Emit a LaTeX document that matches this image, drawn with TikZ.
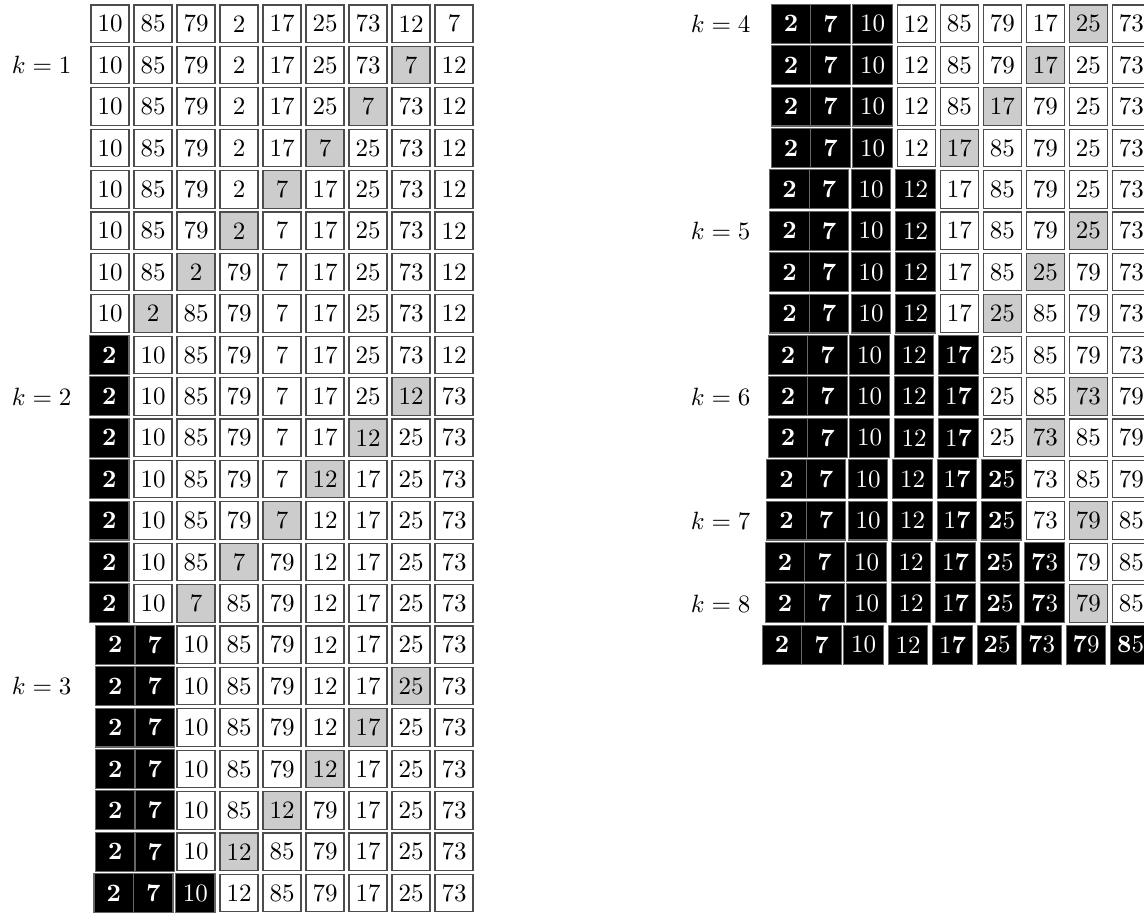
\documentclass[tikz,border=0pt]{standalone}
\tikzset{
  cell/.style={draw=black!70, line width=0.45pt, inner sep=0pt, outer sep=0pt,
    minimum width=15.2pt, minimum height=15pt, anchor=west},
  wcell/.style={cell, fill=white},
  gcell/.style={cell, fill=black!20},
  bcell/.style={cell, fill=black, draw=black!60, text=white,
    minimum width=15.8pt, minimum height=15.56pt},
  klabel/.style={anchor=east, inner sep=0pt},
}
\newcommand\btext[1]{\ifcase#1\or\textbf{2}\or\textbf{7}\or 10\or 12\or 1\textbf{7}\or\textbf{2}5\or\textbf{7}3\or\textbf{7}9\or\textbf{8}5\fi}
\newcommand\cellrow[6]{%
  \pgfmathsetmacro\rowy{23.75+(#2-1)*41.4}%
  \pgfmathsetmacro\rowstart{#3-(9*38+#4*1.5+40-ifthenelse(#4>1,7.5,0))}%
  \foreach \v [count=\j] in {#6} {%
    \pgfmathsetmacro\cx{\rowstart+(\j-1)*43+min(\j-1,#4)*1.5-ifthenelse(#4>1,ifthenelse(\j>1,5,0)+ifthenelse(\j>2,2.5,0),0)}%
    \ifnum\j>#4\relax
      \ifnum\j=#5\relax
        \node[gcell] (#1#2-\j) at (\cx,\rowy) {\v};
      \else
        \node[wcell] (#1#2-\j) at (\cx,\rowy) {\v};
      \fi
    \else
      \node[bcell] (#1#2-\j) at (\cx,\rowy) {\btext{\j}};
    \fi
  }%
}
\begin{document}
\begin{tikzpicture}[x=0.4pt, y=-0.4pt]
\useasboundingbox (0,0) rectangle (1144,915);
% left block
\cellrow{L}{1}{473}{0}{0}{10,85,79,2,17,25,73,12,7}
\cellrow{L}{2}{473}{0}{8}{10,85,79,2,17,25,73,7,12}
\cellrow{L}{3}{473}{0}{7}{10,85,79,2,17,25,7,73,12}
\cellrow{L}{4}{473}{0}{6}{10,85,79,2,17,7,25,73,12}
\cellrow{L}{5}{473}{0}{5}{10,85,79,2,7,17,25,73,12}
\cellrow{L}{6}{473}{0}{4}{10,85,79,2,7,17,25,73,12}
\cellrow{L}{7}{473}{0}{3}{10,85,2,79,7,17,25,73,12}
\cellrow{L}{8}{473}{0}{2}{10,2,85,79,7,17,25,73,12}
\cellrow{L}{9}{473}{1}{0}{2,10,85,79,7,17,25,73,12}
\cellrow{L}{10}{473}{1}{8}{2,10,85,79,7,17,25,12,73}
\cellrow{L}{11}{473}{1}{7}{2,10,85,79,7,17,12,25,73}
\cellrow{L}{12}{473}{1}{6}{2,10,85,79,7,12,17,25,73}
\cellrow{L}{13}{473}{1}{5}{2,10,85,79,7,12,17,25,73}
\cellrow{L}{14}{473}{1}{4}{2,10,85,7,79,12,17,25,73}
\cellrow{L}{15}{473}{1}{3}{2,10,7,85,79,12,17,25,73}
\cellrow{L}{16}{473}{2}{0}{2,7,10,85,79,12,17,25,73}
\cellrow{L}{17}{473}{2}{8}{2,7,10,85,79,12,17,25,73}
\cellrow{L}{18}{473}{2}{7}{2,7,10,85,79,12,17,25,73}
\cellrow{L}{19}{473}{2}{6}{2,7,10,85,79,12,17,25,73}
\cellrow{L}{20}{473}{2}{5}{2,7,10,85,12,79,17,25,73}
\cellrow{L}{21}{473}{2}{4}{2,7,10,12,85,79,17,25,73}
\cellrow{L}{22}{473}{3}{0}{2,7,10,12,85,79,17,25,73}
% right block
\cellrow{R}{1}{1150.3}{3}{8}{2,7,10,12,85,79,17,25,73}
\cellrow{R}{2}{1150.3}{3}{7}{2,7,10,12,85,79,17,25,73}
\cellrow{R}{3}{1150.3}{3}{6}{2,7,10,12,85,17,79,25,73}
\cellrow{R}{4}{1150.3}{3}{5}{2,7,10,12,17,85,79,25,73}
\cellrow{R}{5}{1150.3}{4}{0}{2,7,10,12,17,85,79,25,73}
\cellrow{R}{6}{1150.3}{4}{8}{2,7,10,12,17,85,79,25,73}
\cellrow{R}{7}{1150.3}{4}{7}{2,7,10,12,17,85,25,79,73}
\cellrow{R}{8}{1150.3}{4}{6}{2,7,10,12,17,25,85,79,73}
\cellrow{R}{9}{1150.3}{5}{0}{2,7,10,12,17,25,85,79,73}
\cellrow{R}{10}{1150.3}{5}{8}{2,7,10,12,17,25,85,73,79}
\cellrow{R}{11}{1150.3}{5}{7}{2,7,10,12,17,25,73,85,79}
\cellrow{R}{12}{1150.3}{6}{0}{2,7,10,12,17,25,73,85,79}
\cellrow{R}{13}{1150.3}{6}{8}{2,7,10,12,17,25,73,79,85}
\cellrow{R}{14}{1150.3}{7}{0}{2,7,10,12,17,25,73,79,85}
\cellrow{R}{15}{1150.3}{7}{8}{2,7,10,12,17,25,73,79,85}
\cellrow{R}{16}{1150.3}{9}{0}{2,7,10,12,17,25,73,79,85}
% labels
\node[klabel] (k1) at (72,{23.75+1*41.4}) {$k=1$};
\node[klabel] (k2) at (72,{23.75+9*41.4}) {$k=2$};
\node[klabel] (k3) at (72,{23.75+16*41.4}) {$k=3$};
\node[klabel] (k4) at (751,{23.75+0*41.4}) {$k=4$};
\node[klabel] (k5) at (751,{23.75+5*41.4}) {$k=5$};
\node[klabel] (k6) at (751,{23.75+9*41.4}) {$k=6$};
\node[klabel] (k7) at (751,{23.75+12*41.4}) {$k=7$};
\node[klabel] (k8) at (751,{23.75+14*41.4}) {$k=8$};
\end{tikzpicture}
\end{document}
